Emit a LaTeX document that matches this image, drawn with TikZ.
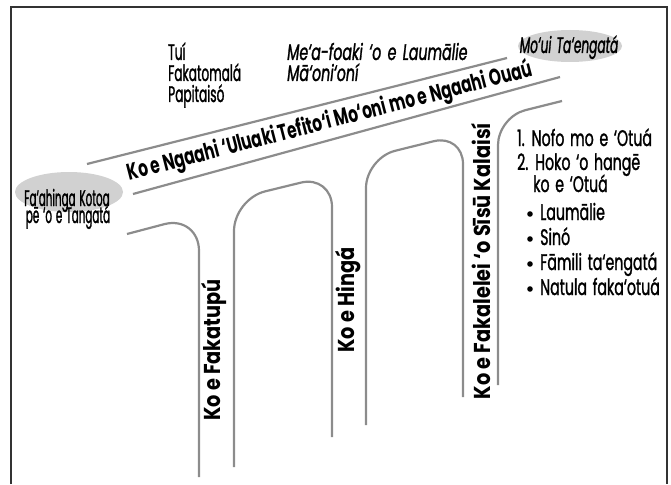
\documentclass[tikz,border=0pt]{standalone}
\usepackage{fontspec}
\setmainfont{Poppins}[FakeStretch=0.6, WordSpace=1.5, FakeBold=1.2]
\newfontfamily\fnar{Poppins}[FakeStretch=0.54, WordSpace=1.4, FakeBold=1.2]
\newfontfamily\fell{Poppins}[FakeStretch=0.46, WordSpace=1.4, FakeBold=1.2]
\newfontfamily\fmid{Poppins}[FakeStretch=0.63, WordSpace=1.5, FakeBold=1.2]
\newfontfamily\vfont{Poppins}[FakeStretch=0.84]
\newfontfamily\rfont{Poppins}[FakeStretch=0.67]
\usetikzlibrary{shapes.geometric}
\begin{document}
\begin{tikzpicture}[x=1pt,y=-1pt,
  road/.style={draw=black!45, line width=2.2pt},
  frame/.style={draw=black!80, line width=1.8pt},
  lbl/.style={font=\fontsize{22.5}{24}\selectfont, inner sep=0pt},
  vlbl/.style={font=\fontsize{23}{25}\selectfont\vfont\bfseries, inner sep=0pt},
  rlbl/.style={font=\fontsize{23}{25}\selectfont\rfont\bfseries, inner sep=0pt},
  blob/.style={ellipse, fill=black!18, draw=none, inner sep=0pt}]
\useasboundingbox (0,0) rectangle (671,484);
% frame
\draw[frame] (11,484) -- (11,7) -- (667,7) -- (667,484);
% ellipses
\node[blob, minimum width=108pt, minimum height=40pt] (e1) at (69,192) {};
\node[blob, minimum width=104pt, minimum height=32pt] (e2) at (570,46) {};
% main road
\draw[road] (87,164) -- (507,58);
\draw[road] (133,194) -- (560,77);
% branches
\draw[road, rounded corners=36pt] (127,234) -- (199,215) -- (199,477);
\draw[road, rounded corners=32pt] (234,467) -- (234,199) -- (332,175) -- (332,437);
\draw[road, rounded corners=30pt] (366,425) -- (366,158) -- (463,134) -- (463,397);
\draw[road, rounded corners=28pt] (498,385) -- (498,117) -- (562,101);
% texts
\node[lbl, anchor=base west] (t1) at (168,60) {\fnar Tuí};
\node[lbl, anchor=base west] (t2) at (168,81) {\fnar Fakatomalá};
\node[lbl, anchor=base west] (t3) at (168,102) {\fnar Papitaisó};
\node[lbl, anchor=base west] (m1) at (287,60) {\fmid\itshape Me‘a-foaki ‘o e Laumālie};
\node[lbl, anchor=base west] (m2) at (287,81) {\fmid\itshape Mā‘oni‘oní};
\node[lbl, anchor=base] (mt) at (569,53) {\fnar\itshape Mo‘ui Ta‘engatá};
\node[lbl, anchor=base] (f1) at (67,206) {\fell Fa‘ahinga Kotoa};
\node[lbl, anchor=base] (f2) at (68,223) {\fell pē ‘o e Tangatá};
\node[rlbl, rotate=14.5] (rt) at (330,122) {Ko e Ngaahi ‘Uluaki Tefito‘i Mo‘oni mo e Ngaahi Ouaú};
\node[vlbl, rotate=90] (v1) at (214,350) {Ko e Fakatupú};
\node[vlbl, rotate=90] (v2) at (348,300) {Ko e Hingá};
\node[vlbl, rotate=90] (v3) at (481,261) {Ko e Fakalelei ‘o Sīsū Kalaisí};
% list
\node[lbl, anchor=base west] (l1) at (517,146) {\fmid 1. Nofo mo e ‘Otuá};
\node[lbl, anchor=base west] (l2) at (517,170) {\fmid 2. Hoko ‘o hangē};
\node[lbl, anchor=base west] (l3) at (533,192) {\fmid ko e ‘Otuá};
\foreach \y/\t [count=\i] in {220/Laumālie, 245/Sinó, 270/Fāmili ta‘engatá, 295/Natula faka‘otuá}{
  \fill (530,\y-6) circle (2.8pt);
  \node[lbl, anchor=base west] (b\i) at (540,\y) {\fmid\t};
}
\end{tikzpicture}
\end{document}
